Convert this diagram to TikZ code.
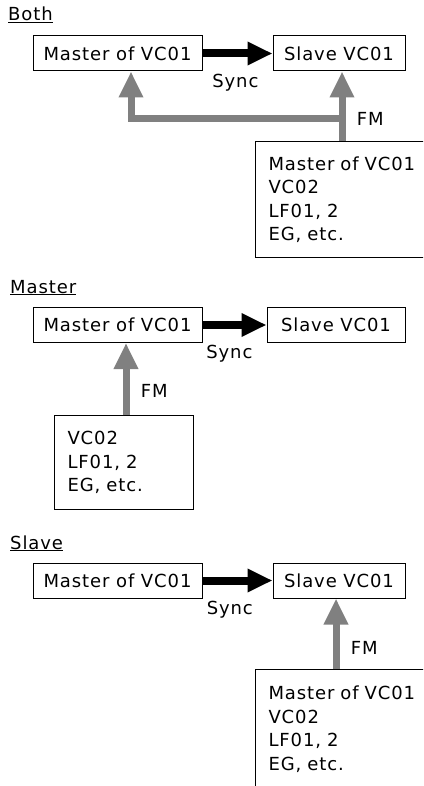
\documentclass[tikz,border=0pt]{standalone}
\usepackage{fontspec}
\setmainfont{DejaVu Sans}[LetterSpace=5]
\usetikzlibrary{arrows.meta,positioning}
\definecolor{fmgray}{gray}{0.5}

\begin{document}
\begin{tikzpicture}[x=1pt,y=-1pt,font=\fontsize{18}{23.5}\selectfont,
  blk/.style={draw,line width=1pt,minimum height=35pt,inner sep=0pt},
  src/.style={draw,line width=1pt,anchor=north west,align=left,inner xsep=13pt,inner ysep=0pt},
  title/.style={anchor=base west,inner sep=0pt},
  syncline/.style={line width=8pt,-{Triangle[width=22pt,length=25pt]}},
  fmline/.style={fmgray,line width=7pt,-{Triangle[width=23pt,length=26pt]}},
  fmlabel/.style={text=black}]
\useasboundingbox (0,0) rectangle (423,786);
\clip (0,0) rectangle (423,786);
% both
\node[title] (tb) at (8,21) {\underline{Both}};
\node[blk,minimum width=169pt] (bm) at (117.5,53.5) {Master of VC01};
\node[blk,minimum width=132pt] (bs) at (339,53.5) {Slave VC01};
\node[src,text width=160pt,minimum height=116pt] (bsrc) at (255,141) {Master of VC01\\VC02\\LF01, 2\\EG, etc.};
\draw[syncline] (bm) -- (bs) node[pos=0.47,below=13pt] (bsy) {Sync};
\coordinate (bj) at (342,118.5);
\coordinate (bk) at (131,118.5);
\draw[fmline] (bj |- bsrc.north) -- (bj |- bs.south) node[fmlabel,pos=0.32,right=8pt] (bfm) {FM};
\draw[fmline] (bj) -- (bk) -- (bk |- bm.south);
% master
\node[title] (tm) at (10,293) {\underline{Master}};
\node[blk,minimum width=169pt] (mm) at (117.5,325) {Master of VC01};
\node[blk,minimum width=138pt] (ms) at (336,325) {Slave VC01};
\node[src,text width=113pt,minimum height=94pt] (msrc) at (54,415) {VC02\\LF01, 2\\EG, etc.};
\draw[syncline] (mm) -- (ms) node[pos=0.42,below=13pt] (msy) {Sync};
\coordinate (mj) at (126,380);
\draw[fmline] (mj |- msrc.north) -- (mj |- mm.south) node[fmlabel,pos=0.34,right=8pt] (mfm) {FM};
% slave
\node[title] (ts) at (10,549) {\underline{Slave}};
\node[blk,minimum width=169pt] (sm) at (117.5,580.5) {Master of VC01};
\node[blk,minimum width=132pt] (ss) at (339,580.5) {Slave VC01};
\node[src,text width=160pt,minimum height=120pt] (ssrc) at (255,668.7) {Master of VC01\\VC02\\LF01, 2\\EG, etc.};
\draw[syncline] (sm) -- (ss) node[pos=0.39,below=13pt] (ssy) {Sync};
\coordinate (sj) at (336,640);
\draw[fmline] (sj |- ssrc.north) -- (sj |- ss.south) node[fmlabel,pos=0.30,right=8pt] (sfm) {FM};
\end{tikzpicture}
\end{document}
